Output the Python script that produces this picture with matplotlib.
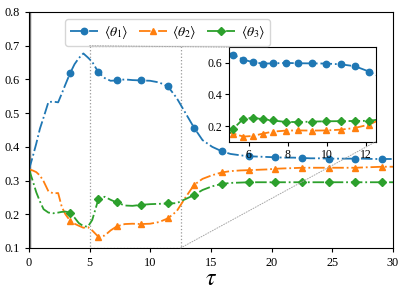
import matplotlib
matplotlib.use("Agg")
from matplotlib import pyplot as plt
from matplotlib.patches import Rectangle, ConnectionPatch

plt.rcParams['font.family'] = ['Liberation Serif', 'DejaVu Serif']
plt.rcParams['mathtext.fontset'] = 'stix'

# time grid (non uniform steps)
tau = [0, 0.3, 0.6, 0.9, 1.2, 1.6, 2.0, 2.4, 2.7, 3.0, 3.38, 3.75, 4.1, 4.48, 4.85,
       5.21, 5.72, 6.24, 6.72, 7.23, 7.9, 8.53, 9.25, 9.98, 10.73, 11.45, 12.17,
       12.9, 13.6, 14.3, 15.1, 15.88, 16.6, 17.4, 18.16, 18.9, 19.6, 20.3, 21.0,
       21.8, 22.5, 23.2, 24.0, 24.7, 25.4, 26.2, 26.9, 27.6, 28.4, 29.1, 30.0]

theta1 = [0.333, 0.37, 0.41, 0.454, 0.487, 0.533, 0.534, 0.532, 0.558, 0.585, 0.618,
          0.645, 0.663, 0.677, 0.665, 0.652, 0.621, 0.604, 0.596, 0.597, 0.600, 0.598,
          0.597, 0.596, 0.591, 0.579, 0.545, 0.500, 0.457, 0.420, 0.400, 0.387, 0.379,
          0.375, 0.372, 0.371, 0.370, 0.369, 0.368, 0.368, 0.367, 0.366, 0.366, 0.365,
          0.365, 0.365, 0.365, 0.365, 0.364, 0.364, 0.364]

theta2 = [0.333, 0.33, 0.325, 0.315, 0.298, 0.268, 0.262, 0.263, 0.222, 0.200, 0.181,
          0.172, 0.166, 0.160, 0.162, 0.152, 0.133, 0.137, 0.152, 0.164, 0.171, 0.172,
          0.171, 0.172, 0.177, 0.188, 0.209, 0.250, 0.287, 0.305, 0.316, 0.324, 0.328,
          0.330, 0.331, 0.332, 0.333, 0.335, 0.336, 0.337, 0.338, 0.338, 0.338, 0.338,
          0.338, 0.338, 0.338, 0.339, 0.340, 0.341, 0.341]

theta3 = [0.333, 0.30, 0.265, 0.238, 0.215, 0.205, 0.203, 0.205, 0.207, 0.208, 0.205,
          0.190, 0.174, 0.165, 0.163, 0.183, 0.245, 0.252, 0.243, 0.235, 0.226, 0.225,
          0.228, 0.230, 0.231, 0.232, 0.233, 0.245, 0.257, 0.272, 0.283, 0.290, 0.293,
          0.294, 0.295, 0.295, 0.295, 0.295, 0.295, 0.295, 0.295, 0.295, 0.295, 0.295,
          0.295, 0.295, 0.295, 0.295, 0.295, 0.295, 0.295]

labels = [r'$\langle\theta_1\rangle$', r'$\langle\theta_2\rangle$', r'$\langle\theta_3\rangle$']
colors = ['#1f77b4', '#ff7f0e', '#2ca02c']
markers = ['o', '^', 'D']
msizes = [4.6, 4.8, 4.2]
main_marks = [10, 16, 19, 22, 25, 28, 31, 34, 37, 40, 43, 46, 49]  # every 3rd point after tau=3.4

fig = plt.figure(figsize=(4.07, 2.96), dpi=100)
ax = fig.add_axes([0.0713, 0.1622, 0.8943, 0.7973])

series = [theta1, theta2, theta3]
for ys, lab, c, m, ms in zip(series, labels, colors, markers, msizes):
    ax.plot(tau, ys, linestyle='-.', color=c, marker=m, markersize=ms,
            markevery=main_marks, lw=1.3, label=lab)

ax.axvline(0, color='0.45', lw=3.2, zorder=0.5)
ax.set_xlim(0, 30)
ax.set_ylim(0.1, 0.8)
ax.set_xticks([0, 5, 10, 15, 20, 25, 30])
ax.set_yticks([0.1, 0.2, 0.3, 0.4, 0.5, 0.6, 0.7, 0.8])
ax.tick_params(labelsize=8.8, length=3)
ax.set_xlabel(r'$\tau$', fontsize=17, labelpad=0)
ax.legend(loc='upper left', bbox_to_anchor=(0.1, 0.97), ncol=3, fontsize=10,
          handlelength=2.0, columnspacing=0.8, handletextpad=0.4, borderpad=0.35,
          borderaxespad=0)

# zoomed inset
x1, x2, y1, y2 = 5, 12.5, 0.1, 0.7
axins = ax.inset_axes([0.55, 0.45, 0.402, 0.401])
for ys, c, m, ms in zip(series, colors, markers, msizes):
    axins.plot(tau, ys, linestyle='-.', color=c, marker=m, markersize=ms, lw=1.3)
axins.set_xlim(x1, x2)
axins.set_ylim(y1, y2)
axins.set_xticks([6, 8, 10, 12])
axins.set_yticks([0.2, 0.4, 0.6])
axins.tick_params(labelsize=8.5, length=3, pad=2)

ax.add_patch(Rectangle((x1, y1), x2 - x1, y2 - y1, fill=False, ec='0.6', ls=':', lw=0.9, zorder=1))
for xa, ya in [(x1, y2), (x2, y1)]:
    con = ConnectionPatch(xyA=(xa, ya), coordsA=ax.transData, xyB=(xa, ya), coordsB=axins.transData,
                          color='0.65', lw=0.7, ls=':')
    fig.add_artist(con)

plt.savefig('out.png', dpi=100)
